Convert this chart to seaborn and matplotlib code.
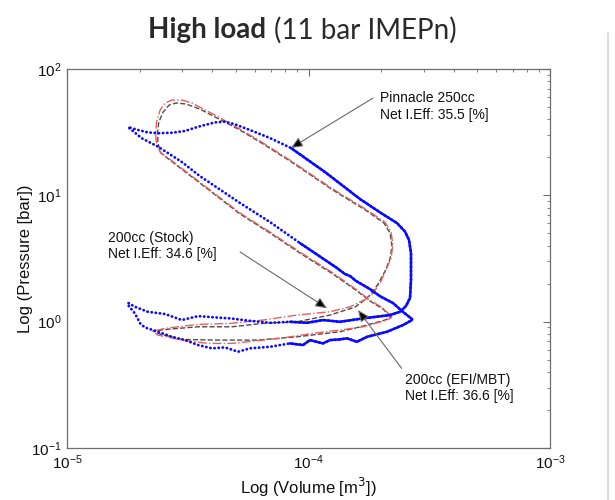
import numpy as np
import pandas as pd
import matplotlib
matplotlib.use("Agg")
import matplotlib.pyplot as plt
import seaborn as sns
from matplotlib.lines import Line2D
from matplotlib.offsetbox import TextArea, HPacker, AnchoredOffsetbox

# ---- data (volume in 1e-5 m^3, pressure in bar) ----
# Pinnacle 250cc: compression -> expansion -> exhaust -> intake
pin_vol = [26.83, 24.39, 22.38, 19.78, 17.97, 16.82, 15.73, 14.85, 14.16, 13.12, 9.22, 6.93, 5.21, 3.55, 2.99, 2.38, 2.04, 1.79,
           1.97, 2.16, 2.38, 2.72, 3.08, 3.49, 4.10, 4.51, 4.96, 5.72, 6.93, 8.46, 11.70, 16.34, 19.97, 23.26, 25.09, 26.07, 26.57, 26.57, 26.32, 25.33, 23.93,
           21.75, 16.82, 13.50, 11.48, 9.86, 8.38, 6.93, 5.72, 4.73, 4.10, 3.49, 2.99, 2.55, 2.16, 1.91, 1.79,
           1.79, 1.91, 2.01, 2.10, 2.38, 2.72, 3.08, 3.49, 3.98, 4.51, 5.11, 5.72, 6.93, 8.38, 9.49, 10.14, 11.48, 12.27, 13.50, 14.43, 15.88, 17.47, 21.14, 24.62, 26.83]
pin_p = [1.048, 1.213, 1.404, 1.59, 1.81, 1.95, 2.10, 2.30, 2.38, 2.66, 4.19, 6.14, 8.69, 14.2, 18.35, 24.3, 28.3, 34.7,
         32.9, 31.5, 31.0, 31.3, 32.3, 34.9, 37.8, 38.3, 36.5, 32.9, 28.4, 23.7, 15.3, 9.35, 7.24, 6.03, 5.17, 4.43, 3.49, 2.13, 1.54, 1.33, 1.198,
         1.128, 1.062, 0.998, 1.030, 0.980, 0.998, 0.980, 1.016, 1.062, 1.081, 1.107, 1.030, 1.149, 1.198, 1.312, 1.411,
         1.353, 1.163, 0.969, 0.901, 0.832, 0.759, 0.715, 0.653, 0.615, 0.626, 0.578, 0.615, 0.633, 0.673, 0.653, 0.715, 0.673, 0.715, 0.724, 0.738, 0.693, 0.759, 0.832, 0.940, 1.030]

# 200cc (Stock)
stock_vol = [22.17, 20.35, 17.97, 15.88, 12.63, 9.22, 6.93, 5.21, 3.55, 2.80, 2.43, 2.34,
             2.33, 2.35, 2.43, 2.55, 2.72, 2.99, 3.29, 4.10, 5.11, 6.30, 8.38, 12.63, 17.47, 20.74, 21.96, 22.38, 21.96, 20.94, 19.78, 18.50, 17.30,
             14.85, 12.27, 8.96, 6.48, 4.73, 3.49, 2.55, 2.27,
             2.38, 2.99, 3.84, 4.82, 6.48, 7.62, 10.44, 13.50, 16.82, 21.14, 22.17]
stock_p = [1.087, 1.281, 1.48, 1.78, 2.43, 3.56, 5.12, 7.24, 12.7, 18.0, 22.0, 26.4,
           31.7, 38.3, 47.4, 53.8, 56.8, 56.8, 53.8, 43.2, 34.1, 26.9, 19.0, 11.2, 7.65, 6.14, 5.12, 4.04, 3.19, 2.56, 2.02, 1.68, 1.51,
           1.31, 1.198, 1.128, 1.030, 0.969, 0.952, 0.885, 0.843,
           0.783, 0.715, 0.673, 0.673, 0.715, 0.738, 0.808, 0.858, 0.911, 1.030, 1.087]

# 200cc (EFI/MBT)
efi_vol = [21.96, 20.35, 17.97, 15.88, 12.63, 9.22, 6.93, 5.21, 3.55, 2.80, 2.45, 2.38,
           2.37, 2.40, 2.50, 2.65, 2.83, 3.11, 3.55, 4.10, 5.11, 6.30, 8.38, 12.63, 17.47, 20.54, 21.75, 22.17, 21.75, 20.74, 19.40, 17.97, 16.66,
           15.58, 12.27, 8.96, 6.48, 4.82, 3.49, 2.67, 2.27,
           2.43, 2.99, 4.10, 6.12, 8.96, 13.50, 16.82, 20.74, 21.96]
efi_p = [1.087, 1.258, 1.456, 1.75, 2.38, 3.49, 5.03, 7.11, 12.51, 17.7, 21.6, 25.9,
         31.7, 38.0, 45.6, 51.9, 53.8, 52.8, 48.2, 41.7, 33.5, 26.4, 18.7, 11.0, 7.51, 6.03, 5.03, 3.97, 3.13, 2.51, 1.98, 1.62, 1.43,
         1.305, 1.128, 0.998, 0.969, 0.911, 0.911, 0.874, 0.843,
         0.797, 0.724, 0.715, 0.715, 0.759, 0.832, 0.923, 1.030, 1.087]

labels = ["Pinnacle 250cc\nNet I.Eff: 35.5 [%]",
          "200cc (Stock)\nNet I.Eff: 34.6 [%]",
          "200cc (EFI/MBT)\nNet I.Eff: 36.6 [%]"]

scale = 1e-5

# ---- style ----
sns.set_style("white")
plt.rcParams['font.family'] = ['Liberation Sans', 'DejaVu Sans']
plt.rcParams['font.size'] = 10

fig = plt.figure(figsize=(6.15, 5.0), dpi=100)
ax = fig.add_axes([67 / 615, 1 - 448 / 500, (550 - 67) / 615, (448 - 69) / 500])

pin = pd.DataFrame({'vol': np.array(pin_vol) * scale, 'p': pin_p})
stock = pd.DataFrame({'vol': np.array(stock_vol) * scale, 'p': stock_p})
efi = pd.DataFrame({'vol': np.array(efi_vol) * scale, 'p': efi_p})

sns.lineplot(data=efi, x='vol', y='p', sort=False, estimator=None, color='#4d4d4d',
             linestyle='--', lw=1.0, ax=ax)
sns.lineplot(data=stock, x='vol', y='p', sort=False, estimator=None, color='#e8605c',
             linestyle='-.', lw=1.0, ax=ax)

# blue: dotted where the samples are sparse, solid where they run together
sns.lineplot(data=pin, x='vol', y='p', sort=False, estimator=None, color='#0a0aff',
             linestyle=(0, (0.1, 1.4)), lw=2.0, dash_capstyle='round', ax=ax)
solid = pin['vol'] >= 8.0e-5
pin['seg'] = (solid != solid.shift()).cumsum()
sns.lineplot(data=pin[solid], x='vol', y='p', units='seg', sort=False, estimator=None,
             color='#0a0aff', lw=1.8, ax=ax)

ax.set_xscale('log')
ax.set_yscale('log')
ax.set_xlim(1e-5, 1e-3)
ax.set_ylim(0.1, 100)

for s in ax.spines.values():
    s.set_color('#6e6e6e')
    s.set_linewidth(0.9)
ax.tick_params(which='both', direction='in', top=True, right=True, colors='#6e6e6e',
               labelcolor='#111111', labelsize=11)
ax.tick_params(which='major', length=5, width=0.8, pad=4)
ax.tick_params(which='minor', length=2.5, width=0.6)

ax.set_xlabel('Log (Volume [m$^3$])', fontsize=12, labelpad=3, color='#111111')
ax.set_ylabel('Log (Pressure [bar])', fontsize=12, labelpad=-2, color='#111111')

arrow = dict(arrowstyle='-|>,head_length=0.7,head_width=0.3', mutation_scale=10,
             edgecolor='#6a6a6a', facecolor='black', lw=0.8, shrinkA=0, shrinkB=0)
ax.annotate('', xy=(8.46e-5, 23.7), xytext=(18.5e-5, 58.9), arrowprops=arrow)
ax.annotate('', xy=(11.93e-5, 1.276), xytext=(5.21e-5, 3.56), arrowprops=arrow)
ax.annotate('', xy=(16.03e-5, 1.235), xytext=(24.3e-5, 0.427), arrowprops=arrow)

ax.text(19.78e-5, 50.5, labels[0], ha='left', va='center', fontsize=10, color='#111111')
ax.text(1.48e-5, 3.97, labels[1], ha='left', va='center', fontsize=10, color='#111111')
ax.text(25.09e-5, 0.298, labels[2], ha='left', va='center', fontsize=10, color='#111111')

# title: bold part + regular part
t1 = TextArea("High load", textprops=dict(fontsize=20, fontweight='bold', family='Lato', color='#2a2a2a'))
t2 = TextArea("(11 bar IMEPn)", textprops=dict(fontsize=20, family='Lato', color='#2a2a2a'))
box = HPacker(children=[t1, t2], align='baseline', pad=0, sep=6)
fig.add_artist(AnchoredOffsetbox(loc='center', child=box, bbox_to_anchor=(0.492, 0.94),
                                 bbox_transform=fig.transFigure, frameon=False, pad=0, borderpad=0))

# faint page border on the right
fig.add_artist(Line2D([608 / 615, 608 / 615], [0, 1 - 33 / 500], transform=fig.transFigure,
                      color='#dcdcdc', lw=1.5))

fig.savefig('out.png', dpi=100)
